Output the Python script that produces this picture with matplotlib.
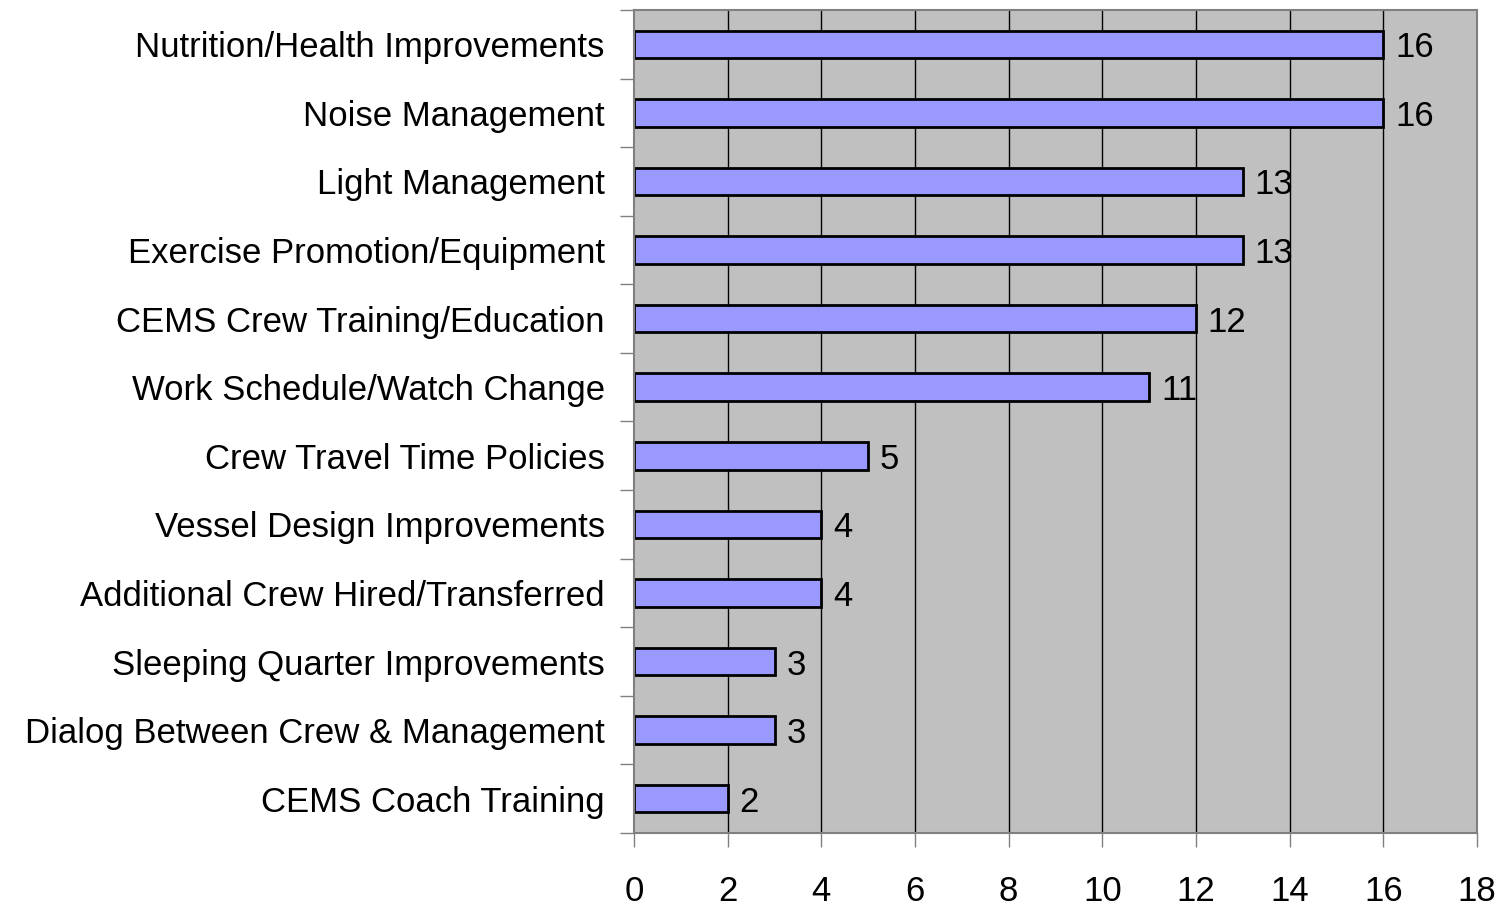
import matplotlib.pyplot as plt
import numpy as np

plt.rcParams['font.family'] = ['Liberation Sans', 'DejaVu Sans']

categories = [
    "Nutrition/Health Improvements",
    "Noise Management",
    "Light Management",
    "Exercise Promotion/Equipment",
    "CEMS Crew Training/Education",
    "Work Schedule/Watch Change",
    "Crew Travel Time Policies",
    "Vessel Design Improvements",
    "Additional Crew Hired/Transferred",
    "Sleeping Quarter Improvements",
    "Dialog Between Crew & Management",
    "CEMS Coach Training",
]
values = [16, 16, 13, 13, 12, 11, 5, 4, 4, 3, 3, 2]
xticks = [0, 2, 4, 6, 8, 10, 12, 14, 16, 18]

fs = 25

fig = plt.figure(figsize=(15.09, 9.13), dpi=100)
ax = fig.add_axes([634 / 1509, 1 - 833 / 913, (1477 - 634) / 1509, (833 - 10) / 913])
ax.set_facecolor('#c0c0c0')

n = len(categories)
ypos = np.arange(n)[::-1]

# vertical gridlines
for x in xticks[1:-1]:
    ax.axvline(x, color='black', linewidth=1.0, zorder=1)

ax.barh(ypos, values, height=0.4, color='#9999ff', edgecolor='black', linewidth=2, zorder=2)

for y, v in zip(ypos, values):
    ax.text(v + 0.25, y, str(v), va='center_baseline', ha='left', fontsize=fs, zorder=3)

ax.set_xlim(0, 18)
ax.set_ylim(-0.5, n - 0.5)
ax.set_xticks(xticks)
ax.set_xticklabels([str(x) for x in xticks], fontsize=fs)

# category ticks at boundaries, labels at centers
ax.set_yticks(np.arange(-0.5, n, 1.0))
ax.set_yticklabels([])
ax.set_yticks(ypos, minor=True)
ax.set_yticklabels(categories, minor=True, fontsize=fs)
ax.tick_params(axis='y', which='minor', length=0, pad=21)
ax.tick_params(axis='y', which='major', length=10, width=1, color='#808080', direction='out')
ax.tick_params(axis='x', length=10, width=1, color='#808080', direction='out', pad=20)

for side in ['top', 'right', 'bottom', 'left']:
    ax.spines[side].set_color('#808080')
    ax.spines[side].set_linewidth(1.5)

fig.savefig('out.png', dpi=100)
